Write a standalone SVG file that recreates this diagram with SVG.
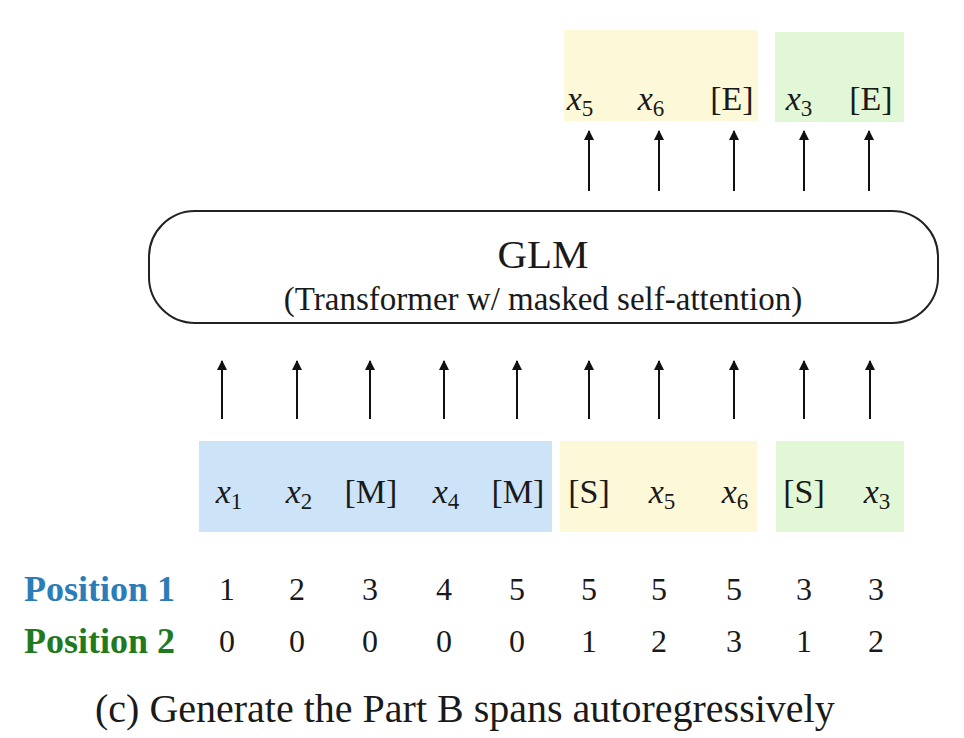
<svg xmlns="http://www.w3.org/2000/svg" width="964" height="738" viewBox="0 0 964 738">
<defs>
<marker id="ah" viewBox="0 0 10 10" refX="9" refY="5" markerWidth="10" markerHeight="10" markerUnits="userSpaceOnUse" orient="auto">
<path d="M0,0 L10,5 L0,10 z" fill="#111"/>
</marker>
</defs>
<rect width="964" height="738" fill="#fff"/>

<g id="out-yellow" font-size="34" text-anchor="middle" fill="#1a1a1a">
<rect fill="#fdf8d8" x="564" y="30" width="194" height="91"/>
<text font-family="Liberation Serif" x="580" y="110"><tspan font-style="italic">x</tspan><tspan font-size="23" dy="6">5</tspan></text>
<text font-family="Liberation Serif" x="651" y="110"><tspan font-style="italic">x</tspan><tspan font-size="23" dy="6">6</tspan></text>
<text font-family="Liberation Serif" x="732" y="110">[E]</text>
</g>
<g id="out-green" font-size="34" text-anchor="middle" fill="#1a1a1a">
<rect fill="#e2f7d6" x="775" y="32" width="129" height="90"/>
<text font-family="Liberation Serif" x="799" y="110"><tspan font-style="italic">x</tspan><tspan font-size="23" dy="6">3</tspan></text>
<text font-family="Liberation Serif" x="871" y="110">[E]</text>
</g>

<g id="glm" text-anchor="middle" fill="#1a1a1a">
<rect x="149" y="211" width="789" height="112" rx="46" ry="46" fill="#fff" stroke="#222" stroke-width="2"/>
<text font-family="Liberation Serif" x="543" y="268" font-size="41">GLM</text>
<text font-family="Liberation Serif" x="543" y="310" font-size="33">(Transformer w/ masked self-attention)</text>
</g>

<g id="in-blue" font-size="34" text-anchor="middle" fill="#1a1a1a">
<rect fill="#cde3f8" x="199" y="441" width="353" height="91"/>
<text font-family="Liberation Serif" x="229" y="503"><tspan font-style="italic">x</tspan><tspan font-size="23" dy="6">1</tspan></text>
<text font-family="Liberation Serif" x="299" y="503"><tspan font-style="italic">x</tspan><tspan font-size="23" dy="6">2</tspan></text>
<text font-family="Liberation Serif" x="371" y="503">[M]</text>
<text font-family="Liberation Serif" x="446" y="503"><tspan font-style="italic">x</tspan><tspan font-size="23" dy="6">4</tspan></text>
<text font-family="Liberation Serif" x="518" y="503">[M]</text>
</g>
<g id="in-yellow" font-size="34" text-anchor="middle" fill="#1a1a1a">
<rect fill="#fdf8d8" x="560" y="441" width="197" height="91"/>
<text font-family="Liberation Serif" x="589" y="503">[S]</text>
<text font-family="Liberation Serif" x="662" y="503"><tspan font-style="italic">x</tspan><tspan font-size="23" dy="6">5</tspan></text>
<text font-family="Liberation Serif" x="735" y="503"><tspan font-style="italic">x</tspan><tspan font-size="23" dy="6">6</tspan></text>
</g>
<g id="in-green" font-size="34" text-anchor="middle" fill="#1a1a1a">
<rect fill="#e2f7d6" x="776" y="441" width="128" height="91"/>
<text font-family="Liberation Serif" x="804" y="503">[S]</text>
<text font-family="Liberation Serif" x="877" y="503"><tspan font-style="italic">x</tspan><tspan font-size="23" dy="6">3</tspan></text>
</g>

<g id="connectors" stroke="#111" stroke-width="2" fill="none" marker-end="url(#ah)">
<line x1="222" y1="419" x2="222" y2="361"/>
<line x1="297" y1="419" x2="297" y2="361"/>
<line x1="370" y1="419" x2="370" y2="361"/>
<line x1="444" y1="419" x2="444" y2="361"/>
<line x1="517" y1="419" x2="517" y2="361"/>
<line x1="589" y1="419" x2="589" y2="361"/>
<line x1="659" y1="419" x2="659" y2="361"/>
<line x1="734" y1="419" x2="734" y2="361"/>
<line x1="804" y1="419" x2="804" y2="361"/>
<line x1="870" y1="419" x2="870" y2="361"/>
<line x1="589" y1="191" x2="589" y2="131"/>
<line x1="659" y1="191" x2="659" y2="131"/>
<line x1="734" y1="191" x2="734" y2="131"/>
<line x1="804" y1="191" x2="804" y2="131"/>
<line x1="869" y1="191" x2="869" y2="131"/>
</g>

<g id="position-labels" font-size="36" font-weight="bold">
<text font-family="Liberation Serif" x="24" y="601" fill="#2a7db8">Position 1</text>
<text font-family="Liberation Serif" x="24" y="653" fill="#1f7a1f">Position 2</text>
</g>
<g id="position-values" font-size="32" text-anchor="middle" fill="#1a1a1a">
<text font-family="Liberation Serif" x="227" y="600">1</text>
<text font-family="Liberation Serif" x="297" y="600">2</text>
<text font-family="Liberation Serif" x="370" y="600">3</text>
<text font-family="Liberation Serif" x="444" y="600">4</text>
<text font-family="Liberation Serif" x="517" y="600">5</text>
<text font-family="Liberation Serif" x="589" y="600">5</text>
<text font-family="Liberation Serif" x="659" y="600">5</text>
<text font-family="Liberation Serif" x="734" y="600">5</text>
<text font-family="Liberation Serif" x="804" y="600">3</text>
<text font-family="Liberation Serif" x="876" y="600">3</text>
<text font-family="Liberation Serif" x="227" y="652">0</text>
<text font-family="Liberation Serif" x="297" y="652">0</text>
<text font-family="Liberation Serif" x="370" y="652">0</text>
<text font-family="Liberation Serif" x="444" y="652">0</text>
<text font-family="Liberation Serif" x="517" y="652">0</text>
<text font-family="Liberation Serif" x="589" y="652">1</text>
<text font-family="Liberation Serif" x="659" y="652">2</text>
<text font-family="Liberation Serif" x="734" y="652">3</text>
<text font-family="Liberation Serif" x="804" y="652">1</text>
<text font-family="Liberation Serif" x="876" y="652">2</text>
</g>

<text font-family="Liberation Serif" x="95" y="722" font-size="40" fill="#1a1a1a">(c)  Generate the Part B spans autoregressively</text>
</svg>
